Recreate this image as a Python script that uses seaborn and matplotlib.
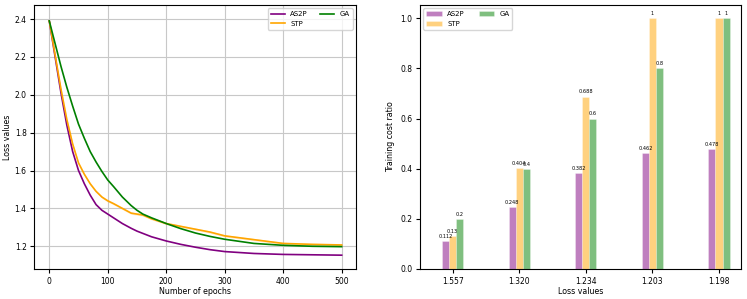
import matplotlib
matplotlib.use("Agg")
import matplotlib.pyplot as plt
import seaborn as sns
import pandas as pd
import numpy as np

# loss curves
epochs = [0, 10, 20, 30, 40, 50, 60, 70, 80, 90, 100, 110, 125, 140, 150, 160, 175,
          200, 225, 250, 275, 300, 350, 400, 450, 500]
loss_as2p = [2.39, 2.20, 2.01, 1.84, 1.70, 1.60, 1.53, 1.47, 1.42, 1.39, 1.37, 1.35, 1.32,
             1.295, 1.28, 1.268, 1.25, 1.228, 1.21, 1.195, 1.182, 1.172, 1.162, 1.157, 1.155, 1.153]
loss_stp = [2.39, 2.21, 2.03, 1.87, 1.74, 1.64, 1.58, 1.53, 1.49, 1.46, 1.44, 1.425, 1.40,
            1.375, 1.37, 1.365, 1.345, 1.32, 1.305, 1.29, 1.275, 1.255, 1.235, 1.215, 1.21, 1.207]
loss_ga = [2.39, 2.27, 2.15, 2.04, 1.94, 1.845, 1.77, 1.70, 1.645, 1.595, 1.55, 1.515, 1.46,
           1.415, 1.39, 1.37, 1.35, 1.32, 1.293, 1.27, 1.252, 1.237, 1.215, 1.205, 1.20, 1.198]

# training cost ratio bars
loss_labels = ["1.557", "1.320", "1.234", "1.203", "1.198"]
ratio_as2p = [0.112, 0.248, 0.382, 0.462, 0.478]
ratio_stp = [0.13, 0.404, 0.688, 1, 1]
ratio_ga = [0.2, 0.4, 0.6, 0.8, 1]

methods = ["AS2P", "STP", "GA"]
colors = {"AS2P": "purple", "STP": "orange", "GA": "green"}

df_loss = pd.DataFrame({
    "epoch": epochs * 3,
    "loss": loss_as2p + loss_stp + loss_ga,
    "method": ["AS2P"] * len(epochs) + ["STP"] * len(epochs) + ["GA"] * len(epochs),
})
df_bar = pd.DataFrame({
    "loss": loss_labels * 3,
    "ratio": ratio_as2p + ratio_stp + ratio_ga,
    "method": ["AS2P"] * 5 + ["STP"] * 5 + ["GA"] * 5,
})

plt.rcParams["font.family"] = "DejaVu Sans"
fig = plt.figure(figsize=(7.47, 2.99), dpi=100)
ax1 = fig.add_axes([34.3 / 747, 1 - 269 / 299, (356 - 34.3) / 747, (269 - 5) / 299])
ax2 = fig.add_axes([420 / 747, 1 - 269 / 299, (741 - 420) / 747, (269 - 5) / 299])

# left: loss curves
sns.lineplot(df_loss, x="epoch", y="loss", hue="method", palette=colors, ax=ax1, linewidth=1.2)
stp = np.array(loss_stp)
ax1.fill_between(epochs, stp - 0.006, stp + 0.006, color="orange", alpha=0.2, linewidth=0)
ax1.set_xlim(-25.6, 524.5)
ax1.set_ylim(1.08, 2.474)
ax1.set_xticks([0, 100, 200, 300, 400, 500])
ax1.set_yticks([1.2, 1.4, 1.6, 1.8, 2.0, 2.2, 2.4])
ax1.grid(True, color="#c8c8c8", linewidth=0.8)
ax1.set_axisbelow(True)
ax1.tick_params(labelsize=5.5, length=3, pad=2.5)
ax1.set_xlabel("Number of epochs", fontsize=5.7, labelpad=1)
ax1.set_ylabel("Loss values", fontsize=5.7, labelpad=2)
ax1.legend(loc="upper right", ncol=2, fontsize=5, frameon=True, handlelength=2,
           columnspacing=1.8, borderaxespad=0.5)

# right: cost ratio bars
sns.barplot(df_bar, x="loss", y="ratio", hue="method", palette=colors, ax=ax2,
            width=0.32, alpha=0.5, saturation=1, edgecolor="white", linewidth=0.4,
            errorbar=None)
for cont in ax2.containers:
    ax2.bar_label(cont, fmt="%g", fontsize=3.6, padding=1.5)
ax2.set_xlim(-0.49, 4.33)
ax2.set_ylim(0, 1.053)
ax2.set_yticks([0.0, 0.2, 0.4, 0.6, 0.8, 1.0])
ax2.tick_params(labelsize=5.5, length=3, pad=2.5)
ax2.set_xlabel("Loss values", fontsize=5.7, labelpad=1)
ax2.set_ylabel("Training cost ratio", fontsize=5.7, labelpad=4)
ax2.legend(loc="upper left", ncol=2, fontsize=5, frameon=True, handlelength=2.2,
           columnspacing=2.0, borderaxespad=0.5)

plt.savefig("out.png", dpi=100)
